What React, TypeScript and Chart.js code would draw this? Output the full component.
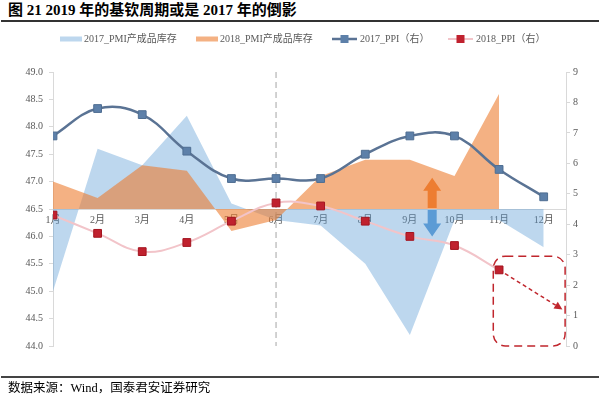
import React, { useEffect, useRef } from 'react';
import { Chart, registerables } from 'chart.js';

Chart.register(...registerables);

// ---- data ----
const months = ['1月', '2月', '3月', '4月', '5月', '6月', '7月', '8月', '9月', '10月', '11月', '12月'];
const pmi2017 = [45.0, 47.6, 47.3, 48.2, 46.6, 46.3, 46.2, 45.5, 44.2, 46.3, 46.3, 45.8];
const pmi2018 = [47.0, 46.7, 47.3, 47.2, 46.1, 46.3, 47.1, 47.4, 47.4, 47.1, 48.6, null];
const ppi2017 = [6.9, 7.8, 7.6, 6.4, 5.5, 5.5, 5.5, 6.3, 6.9, 6.9, 5.8, 4.9];
const ppi2018 = [4.3, 3.7, 3.1, 3.4, 4.1, 4.7, 4.6, 4.1, 3.6, 3.3, 2.5, null];
const leftTicks = [44.0, 44.5, 45.0, 45.5, 46.0, 46.5, 47.0, 47.5, 48.0, 48.5, 49.0];
const rightTicks = [0, 1, 2, 3, 4, 5, 6, 7, 8, 9];
const pmiBaseline = 46.5;
const dividerIndex = 5; // 6月
// annotation anchors (data units)
const pmiArrowX = 8.5;
const pmiArrowUpTip = 47.07;
const pmiArrowDownTip = 46.0;
const forecastFrom = { x: 10, y: 2.5 };
const forecastTo = { x: 11.42, y: 1.2 };
const forecastBox = { x0: 9.87, x1: 11.48, y0: 0, y1: 2.95 };

const legendLabels = ['2017_PMI产成品库存', '2018_PMI产成品库存', '2017_PPI（右）', '2018_PPI（右）'];

const FONT_FAMILY = '"Liberation Serif", "Noto Sans CJK SC", serif';
const TICK_COLOR = '#595959';
const AXIS_COLOR = '#d9d9d9';

const BLUE_AREA = 'rgba(91,155,213,0.4)';
const ORANGE_AREA = 'rgba(237,125,49,0.6)';
const PPI17_LINE = '#5a7394';
const PPI17_POINT = '#5d80a9';
const PPI18_LINE = '#f2c4c9';
const PPI18_POINT = '#c0212e';
const RED_DASH = '#c0262d';

const pts = (arr: (number | null)[]) => arr.map((v, i) => ({ x: i, y: v }));

function drawVArrow(ctx: CanvasRenderingContext2D, x: number, yBase: number, yTip: number, color: string) {
  const dir = yTip < yBase ? -1 : 1;
  const shaftHalf = 4.5;
  const headHalf = 9;
  const headLen = Math.min(13, Math.abs(yTip - yBase) * 0.5);
  const yHead = yTip - dir * headLen;
  ctx.save();
  ctx.fillStyle = color;
  ctx.beginPath();
  ctx.moveTo(x - shaftHalf, yBase);
  ctx.lineTo(x - shaftHalf, yHead);
  ctx.lineTo(x - headHalf, yHead);
  ctx.lineTo(x, yTip);
  ctx.lineTo(x + headHalf, yHead);
  ctx.lineTo(x + shaftHalf, yHead);
  ctx.lineTo(x + shaftHalf, yBase);
  ctx.closePath();
  ctx.fill();
  ctx.restore();
}

const annotationPlugin = {
  id: 'annotations',
  beforeDatasetsDraw(chart: any) {
    const { ctx, scales } = chart;
    const x = scales.x.getPixelForValue(dividerIndex);
    ctx.save();
    ctx.strokeStyle = '#a6a6a6';
    ctx.lineWidth = 1;
    ctx.setLineDash([6, 4]);
    ctx.beginPath();
    ctx.moveTo(x, scales.y.getPixelForValue(49));
    ctx.lineTo(x, scales.y.getPixelForValue(44));
    ctx.stroke();
    ctx.restore();
  },
  afterDatasetsDraw(chart: any) {
    const { ctx, scales } = chart;
    const xs = scales.x, yl = scales.y, yr = scales.y1;
    const ax = xs.getPixelForValue(pmiArrowX);
    const base = yl.getPixelForValue(pmiBaseline);
    drawVArrow(ctx, ax, base - 1, yl.getPixelForValue(pmiArrowUpTip), '#ed7d31');
    drawVArrow(ctx, ax, base + 1, yl.getPixelForValue(pmiArrowDownTip), '#5b9bd5');

    // dashed rounded box
    const bx0 = xs.getPixelForValue(forecastBox.x0);
    const bx1 = xs.getPixelForValue(forecastBox.x1);
    const by0 = yr.getPixelForValue(forecastBox.y1);
    const by1 = yr.getPixelForValue(forecastBox.y0);
    const r = 12;
    ctx.save();
    ctx.strokeStyle = RED_DASH;
    ctx.lineWidth = 1.5;
    ctx.setLineDash([8, 5]);
    ctx.beginPath();
    ctx.moveTo(bx0 + r, by0);
    ctx.lineTo(bx1 - r, by0);
    ctx.arcTo(bx1, by0, bx1, by0 + r, r);
    ctx.lineTo(bx1, by1 - r);
    ctx.arcTo(bx1, by1, bx1 - r, by1, r);
    ctx.lineTo(bx0 + r, by1);
    ctx.arcTo(bx0, by1, bx0, by1 - r, r);
    ctx.lineTo(bx0, by0 + r);
    ctx.arcTo(bx0, by0, bx0 + r, by0, r);
    ctx.closePath();
    ctx.stroke();

    // dashed forecast arrow
    const fx0 = xs.getPixelForValue(forecastFrom.x);
    const fy0 = yr.getPixelForValue(forecastFrom.y);
    const fx1 = xs.getPixelForValue(forecastTo.x);
    const fy1 = yr.getPixelForValue(forecastTo.y);
    const ang = Math.atan2(fy1 - fy0, fx1 - fx0);
    const hl = 8;
    ctx.setLineDash([4, 3]);
    ctx.beginPath();
    ctx.moveTo(fx0, fy0);
    ctx.lineTo(fx1 - Math.cos(ang) * hl, fy1 - Math.sin(ang) * hl);
    ctx.stroke();
    ctx.setLineDash([]);
    ctx.fillStyle = RED_DASH;
    ctx.beginPath();
    ctx.moveTo(fx1, fy1);
    ctx.lineTo(fx1 - Math.cos(ang) * hl + Math.sin(ang) * 4, fy1 - Math.sin(ang) * hl - Math.cos(ang) * 4);
    ctx.lineTo(fx1 - Math.cos(ang) * hl - Math.sin(ang) * 4, fy1 - Math.sin(ang) * hl + Math.cos(ang) * 4);
    ctx.closePath();
    ctx.fill();
    ctx.restore();
  },
  afterDraw(chart: any) {
    const { ctx } = chart;
    const cy = 39;
    const starts = [60, 196, 332, 448];
    ctx.save();
    ctx.font = '10px ' + FONT_FAMILY;
    ctx.textBaseline = 'middle';
    ctx.fillStyle = TICK_COLOR;
    legendLabels.forEach((label, i) => {
      const sx = starts[i];
      let tx;
      if (i < 2) {
        ctx.fillStyle = i === 0 ? '#bdd7ee' : '#f4b183';
        ctx.fillRect(sx, cy - 2.5, 22, 5);
        tx = sx + 24;
      } else {
        ctx.strokeStyle = i === 2 ? PPI17_LINE : PPI18_LINE;
        ctx.lineWidth = i === 2 ? 2.5 : 2;
        ctx.beginPath();
        ctx.moveTo(sx, cy);
        ctx.lineTo(sx + 25, cy);
        ctx.stroke();
        ctx.fillStyle = i === 2 ? PPI17_POINT : PPI18_POINT;
        ctx.fillRect(sx + 12.5 - 4, cy - 4, 8, 8);
        tx = sx + 28;
      }
      ctx.fillStyle = TICK_COLOR;
      ctx.fillText(label, tx, cy);
    });
    ctx.restore();
  },
};

export default function App() {
  const canvasRef = useRef<HTMLCanvasElement | null>(null);

  useEffect(() => {
    if (!canvasRef.current) return;
    const tickFont = { family: FONT_FAMILY, size: 10 };
    const chart = new Chart(canvasRef.current, {
      type: 'line',
      data: {
        datasets: [
          {
            label: legendLabels[0],
            data: pts(pmi2017),
            yAxisID: 'y',
            backgroundColor: BLUE_AREA,
            borderColor: 'rgba(0,0,0,0)',
            borderWidth: 0,
            pointRadius: 0,
            fill: { value: pmiBaseline },
            tension: 0,
            order: 4,
          },
          {
            label: legendLabels[1],
            data: pts(pmi2018),
            yAxisID: 'y',
            backgroundColor: ORANGE_AREA,
            borderColor: 'rgba(0,0,0,0)',
            borderWidth: 0,
            pointRadius: 0,
            fill: { value: pmiBaseline },
            tension: 0,
            order: 3,
          },
          {
            label: legendLabels[2],
            data: pts(ppi2017),
            yAxisID: 'y1',
            borderColor: PPI17_LINE,
            borderWidth: 2.5,
            backgroundColor: PPI17_POINT,
            pointStyle: 'rect',
            pointRadius: 5.5,
            pointBackgroundColor: PPI17_POINT,
            pointBorderColor: '#4f6e92',
            pointBorderWidth: 1,
            fill: false,
            tension: 0.4,
            order: 1,
          },
          {
            label: legendLabels[3],
            data: pts(ppi2018),
            yAxisID: 'y1',
            borderColor: PPI18_LINE,
            borderWidth: 2,
            backgroundColor: PPI18_POINT,
            pointStyle: 'rect',
            pointRadius: 5.5,
            pointBackgroundColor: PPI18_POINT,
            pointBorderColor: '#a3141f',
            pointBorderWidth: 1,
            fill: false,
            tension: 0.4,
            order: 2,
          },
        ],
      },
      options: {
        animation: false,
        responsive: false,
        devicePixelRatio: 1,
        layout: { padding: { top: 72, bottom: 50, left: 0, right: 0 } },
        plugins: {
          legend: { display: false },
          tooltip: { enabled: false },
          title: { display: false },
        },
        scales: {
          x: {
            type: 'linear',
            min: 0,
            max: 11.5,
            position: { y: pmiBaseline } as any,
            z: 1,
            afterBuildTicks: (s: any) => {
              s.ticks = months.map((_, i) => ({ value: i }));
            },
            ticks: {
              callback: (v: any) => months[v] ?? '',
              padding: 5,
              font: tickFont,
              color: TICK_COLOR,
              maxRotation: 0,
              autoSkip: false,
            },
            grid: { display: false, drawTicks: false },
            border: { display: true, color: AXIS_COLOR, width: 1 },
          },
          y: {
            type: 'linear',
            position: 'left',
            min: 44,
            max: 49,
            afterBuildTicks: (s: any) => {
              s.ticks = leftTicks.map((v) => ({ value: v }));
            },
            afterFit: (s: any) => {
              s.width = 53;
            },
            ticks: {
              callback: (v: any) => Number(v).toFixed(1),
              padding: 6,
              font: tickFont,
              color: TICK_COLOR,
            },
            grid: { drawOnChartArea: false, tickLength: 4, color: AXIS_COLOR },
            border: { display: true, color: AXIS_COLOR, width: 1 },
          },
          y1: {
            type: 'linear',
            position: 'right',
            min: 0,
            max: 9,
            afterBuildTicks: (s: any) => {
              s.ticks = rightTicks.map((v) => ({ value: v }));
            },
            afterFit: (s: any) => {
              s.width = 34;
            },
            ticks: {
              callback: (v: any) => String(v),
              padding: 3,
              font: tickFont,
              color: TICK_COLOR,
            },
            grid: { drawOnChartArea: false, tickLength: 4, color: AXIS_COLOR },
            border: { display: true, color: AXIS_COLOR, width: 1 },
          },
        },
      },
      plugins: [annotationPlugin],
    } as any);
    return () => chart.destroy();
  }, []);

  return (
    <div
      style={{
        position: 'fixed',
        left: 0,
        top: 0,
        width: 600,
        height: 396,
        background: '#fff',
        overflow: 'hidden',
      }}
    >
      <div
        style={{
          position: 'absolute',
          left: 8,
          top: 2,
          fontFamily: FONT_FAMILY,
          fontWeight: 700,
          fontSize: 15,
          lineHeight: '17px',
          color: '#000',
          whiteSpace: 'nowrap',
        }}
      >
        图 21 2019 年的基钦周期或是 2017 年的倒影
      </div>
      <div style={{ position: 'absolute', left: 1, top: 20, width: 598, height: 1.5, background: '#333' }} />
      <canvas
        ref={canvasRef}
        width={600}
        height={396}
        style={{ position: 'absolute', left: 0, top: 0, width: 600, height: 396 }}
      />
      <div style={{ position: 'absolute', left: 1, top: 376, width: 598, height: 1.5, background: '#444' }} />
      <div
        style={{
          position: 'absolute',
          left: 8,
          top: 380,
          fontFamily: FONT_FAMILY,
          fontSize: 12.5,
          lineHeight: '17px',
          color: '#000',
          whiteSpace: 'nowrap',
        }}
      >
        数据来源：Wind，国泰君安证券研究
      </div>
    </div>
  );
}
